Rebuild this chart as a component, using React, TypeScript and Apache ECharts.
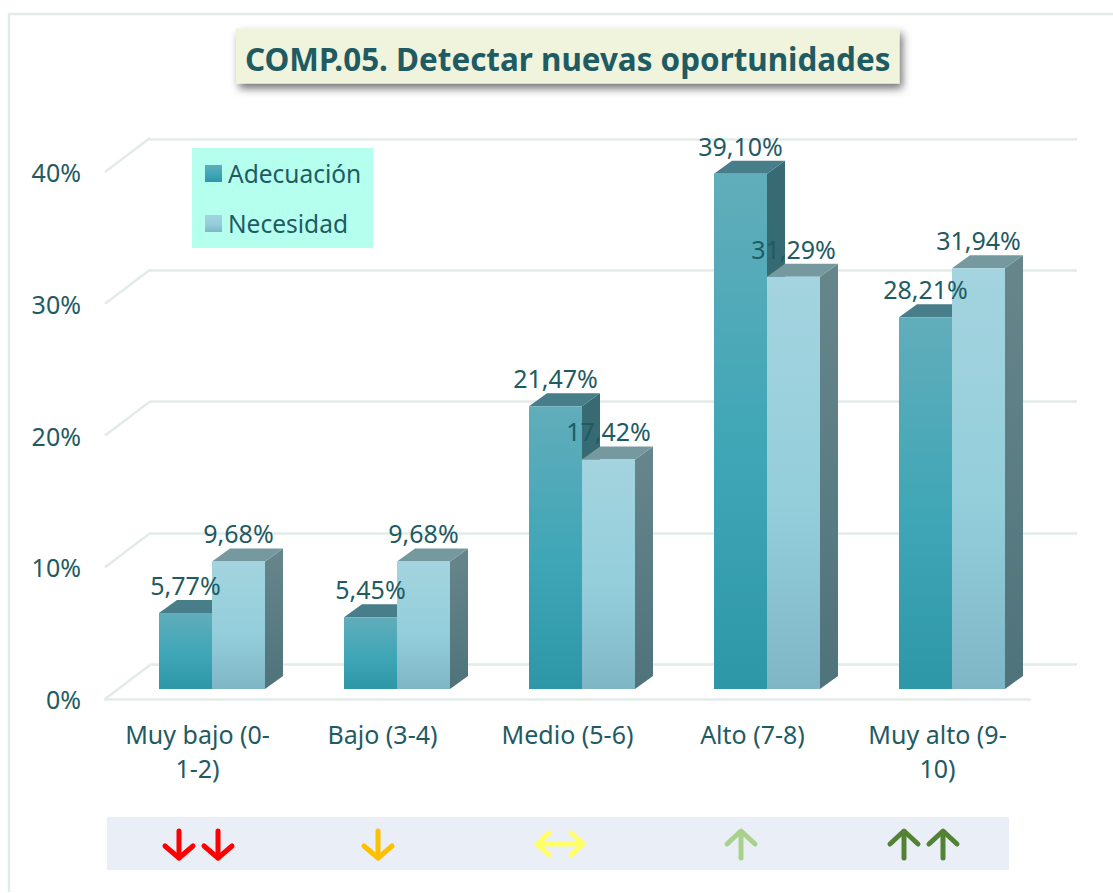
import React, { useEffect, useRef } from "react";
import * as echarts from "echarts";

const categories = ["Muy bajo (0-\n1-2)", "Bajo (3-4)", "Medio (5-6)", "Alto (7-8)", "Muy alto (9-\n10)"];
const adecuacion = [5.77, 5.45, 21.47, 39.1, 28.21];
const necesidad = [9.68, 9.68, 17.42, 31.29, 31.94];
const yTicks = [0, 10, 20, 30, 40];
const titleText = "COMP.05. Detectar nuevas oportunidades";

const FONT = "'Noto Sans', sans-serif";
const TEXT = "#1F5B63";
const GRID = "#E3EBE9";
const BAR_W = 53;
const DEPTH_X = 18;
const DEPTH_Y = 13;
const SHIFT_X = 14.5;
const SHIFT_Y = -10;

const vGrad = (stops: [number, string][]) =>
  new echarts.graphic.LinearGradient(0, 0, 0, 1, stops.map(([offset, color]) => ({ offset, color })));

const paletteA = {
  front: () => vGrad([[0, "#61ADBB"], [0.55, "#3EA6B6"], [1, "#2E97A7"]]),
  top: "#477E8A",
  side: () => vGrad([[0, "#386A73"], [1, "#2F6B75"]]),
};
const paletteB = {
  front: () => vGrad([[0, "#A3D4DF"], [0.55, "#94CEDB"], [1, "#7FB6C6"]]),
  top: "#76999F",
  side: () => vGrad([[0, "#67868C"], [1, "#4F737B"]]),
};

const barSeries = (name: string, values: number[], sign: number, pal: typeof paletteA) => ({
  name,
  type: "custom",
  xAxisIndex: 0,
  yAxisIndex: 0,
  z: 3,
  itemStyle: { color: pal.front() },
  data: values.map((v, i) => [i, v]),
  encode: { x: 0, y: 1 },
  renderItem: (_p: any, api: any) => {
    const top = api.coord([api.value(0), api.value(1)]);
    const base = api.coord([api.value(0), 0]);
    const x0 = top[0] + SHIFT_X + (sign < 0 ? -BAR_W : 0);
    const x1 = x0 + BAR_W;
    const yT = top[1] + SHIFT_Y;
    const yB = base[1] + SHIFT_Y;
    return {
      type: "group",
      children: [
        { type: "polygon", shape: { points: [[x1, yT], [x1 + DEPTH_X, yT - DEPTH_Y], [x1 + DEPTH_X, yB - DEPTH_Y], [x1, yB]] }, style: { fill: pal.side() } },
        { type: "polygon", shape: { points: [[x0, yT], [x0 + DEPTH_X, yT - DEPTH_Y], [x1 + DEPTH_X, yT - DEPTH_Y], [x1, yT]] }, style: { fill: pal.top } },
        { type: "rect", shape: { x: x0, y: yT, width: BAR_W, height: yB - yT }, style: { fill: pal.front() } },
      ],
    };
  },
});

const labelSeries = (values: number[], sign: number) => ({
  type: "custom",
  xAxisIndex: 0,
  yAxisIndex: 0,
  z: 5,
  silent: true,
  data: values.map((v, i) => [i, v]),
  encode: { x: 0, y: 1 },
  renderItem: (_p: any, api: any) => {
    const val = api.value(1);
    const p = api.coord([api.value(0), val]);
    return {
      type: "text",
      style: {
        x: p[0] + SHIFT_X + (sign * BAR_W) / 2,
        y: p[1] + SHIFT_Y - 28,
        text: val.toFixed(2).replace(".", ",") + "%",
        fill: TEXT,
        font: `25px ${FONT}`,
        align: "center",
        verticalAlign: "middle",
      },
    };
  },
});

const wallSeries = {
  type: "custom",
  xAxisIndex: 0,
  yAxisIndex: 0,
  z: 1,
  silent: true,
  data: yTicks.map((t) => [0, t]),
  encode: { y: 1 },
  renderItem: (p: any, api: any) => {
    const y = api.coord([0, api.value(1)])[1];
    const x = p.coordSys.x;
    return {
      type: "line",
      shape: { x1: x, y1: y, x2: x + 45, y2: y - 34 },
      style: { stroke: GRID, lineWidth: 2.5 },
    };
  },
};

const arrow = (pts: number[][][], color: string) => ({
  type: "group",
  children: pts.map((points) => ({
    type: "polyline",
    z: 10,
    shape: { points },
    style: { stroke: color, lineWidth: 5, fill: "none", lineCap: "round", lineJoin: "round" },
  })),
});
const down = (x: number, color: string) =>
  arrow([[[x, 831], [x, 858]], [[x - 14, 846], [x, 858], [x + 14, 846]]], color);
const up = (x: number, color: string) =>
  arrow([[[x, 858], [x, 832]], [[x - 14, 844], [x, 831], [x + 14, 844]]], color);

export default function App() {
  const ref = useRef<HTMLDivElement>(null);
  useEffect(() => {
    const chart = echarts.init(ref.current!, undefined, { renderer: "svg" });
    chart.setOption({
      animation: false,
      backgroundColor: "#FFFFFF",
      textStyle: { fontFamily: FONT },
      title: {
        text: titleText,
        left: 236,
        top: 29,
        padding: [14, 9, 10, 9],
        backgroundColor: "#F1F4DC",
        shadowColor: "rgba(0,0,0,0.55)",
        shadowBlur: 8,
        shadowOffsetX: 3,
        shadowOffsetY: 5,
        textStyle: { fontFamily: FONT, fontSize: 31.4, fontWeight: "bold", color: TEXT, lineHeight: 30 },
      },
      legend: {
        orient: "vertical",
        left: 192,
        top: 148,
        padding: [13, 12, 12, 13],
        itemGap: 25,
        itemWidth: 17,
        itemHeight: 17,
        backgroundColor: "#B5FFEE",
        icon: "rect",
        data: ["Adecuación", "Necesidad"],
        textStyle: { fontFamily: FONT, fontSize: 24.5, color: TEXT, padding: [0, 0, 0, 1] },
      },
      grid: [
        { left: 105, top: 172, width: 925, height: 527, containLabel: false },
        { left: 150, top: 139, width: 927, height: 525, containLabel: false },
      ],
      xAxis: [
        {
          type: "category",
          gridIndex: 0,
          data: categories,
          axisTick: { show: false },
          axisLine: { show: true, lineStyle: { color: GRID, width: 2.5 } },
          axisLabel: { color: TEXT, fontFamily: FONT, fontSize: 25, lineHeight: 34, margin: 18, interval: 0 },
          splitLine: { show: false },
        },
        {
          type: "category",
          gridIndex: 1,
          data: categories,
          show: false,
        },
      ],
      yAxis: [
        {
          type: "value",
          gridIndex: 0,
          min: 0,
          max: 40,
          interval: 10,
          axisLine: { show: false },
          axisTick: { show: false },
          splitLine: { show: false },
          axisLabel: { color: TEXT, fontFamily: FONT, fontSize: 25, margin: 24, formatter: "{value}%" },
        },
        {
          type: "value",
          gridIndex: 1,
          min: 0,
          max: 40,
          interval: 10,
          axisLine: { show: false },
          axisTick: { show: false },
          axisLabel: { show: false },
          splitLine: { show: true, lineStyle: { color: GRID, width: 2.5 } },
        },
      ],
      series: [
        wallSeries,
        barSeries("Adecuación", adecuacion, -1, paletteA),
        barSeries("Necesidad", necesidad, 1, paletteB),
        labelSeries(adecuacion, -1),
        labelSeries(necesidad, 1),
      ],
      graphic: [
        {
          type: "polyline",
          z: -1,
          shape: { points: [[9, 892], [9, 14], [1113, 14]] },
          style: { stroke: GRID, lineWidth: 2.5, fill: "none" },
        },
        { type: "rect", z: 9, shape: { x: 107, y: 817, width: 902, height: 53 }, style: { fill: "#EAEEF7" } },
        down(179, "#FF0000"),
        down(218, "#FF0000"),
        down(378, "#FFC000"),
        arrow([[[537, 844], [583, 844]], [[549, 833], [537, 844], [549, 855]], [[571, 833], [583, 844], [571, 855]]], "#FFFF66"),
        up(741, "#A9D18E"),
        up(904, "#548235"),
        up(943, "#548235"),
      ],
    });
    return () => chart.dispose();
  }, []);
  return <div ref={ref} style={{ position: "absolute", left: 0, top: 0, width: 1113, height: 893 }} />;
}
